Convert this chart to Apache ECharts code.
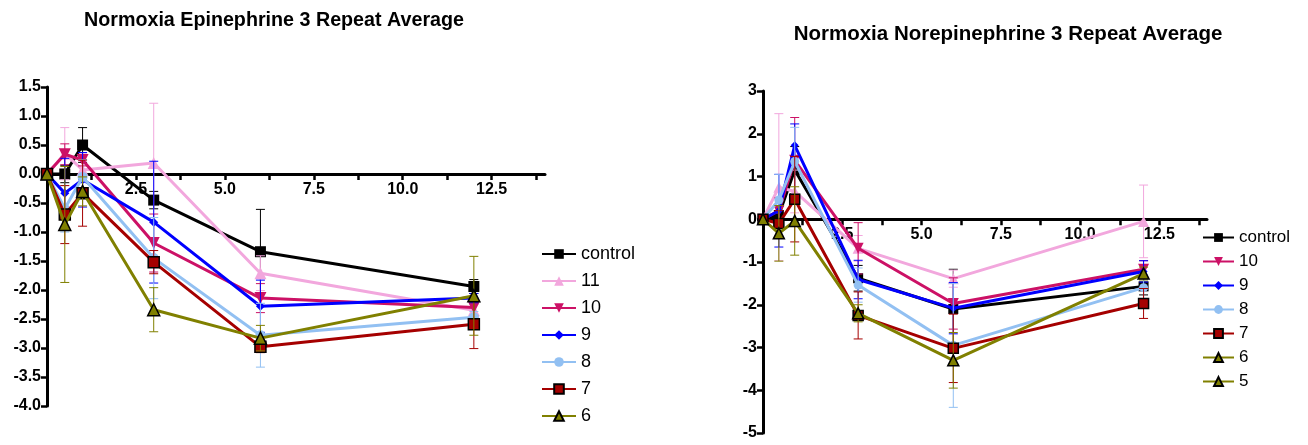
<!DOCTYPE html>
<html>
<head>
<meta charset="utf-8">
<script src="https://cdn.jsdelivr.net/npm/echarts@6/dist/echarts.min.js"></script>
<style>
html,body{margin:0;padding:0;background:#fff;}
#chart{width:1308px;height:445px;}
</style>
</head>
<body>
<div id="chart"></div>
<script>
// ---------- data ----------
const timePoints = [0, 0.5, 1, 3, 6, 12];

// Left: Normoxia Epinephrine
const epiTitle = 'Normoxia Epinephrine 3 Repeat Average';
const epiNames = ['control', '11', '10', '9', '8', '7', '6'];
const epiControl = [0, 0.00, 0.50, -0.45, -1.34, -1.94];
const epi11      = [0, 0.35, 0.07, 0.19, -1.71, -2.35];
const epi10      = [0, 0.34, 0.24, -1.19, -2.14, -2.30];
const epi9       = [0, -0.33, -0.10, -0.83, -2.28, -2.14];
const epi8       = [0, -0.60, -0.05, -1.45, -2.78, -2.47];
const epi7       = [0, -0.70, -0.33, -1.52, -2.98, -2.59];
const epi6       = [0, -0.87, -0.30, -2.34, -2.83, -2.10];
const epiErrControl = [0, 0.15, 0.30, 0.15, 0.73, 0.12];
const epiErr11      = [0, 0.45, 0.15, 1.03, 0.30, 0.10];
const epiErr10      = [0, 0.18, 0.10, 0.50, 0.25, 0.15];
const epiErr9       = [0, 0.60, 0.47, 1.05, 0.45, 0.08];
const epiErr8       = [0, 0.40, 0.30, 0.70, 0.55, 0.10];
const epiErr7       = [0, 0.50, 0.57, 0.20, 0.10, 0.42];
const epiErr6       = [0, 1.00, 0.25, 0.38, 0.22, 0.68];
const epiYTicks = { min: -4, max: 1.5, interval: 0.5 };

// Right: Normoxia Norepinephrine
const norTitle = 'Normoxia Norepinephrine 3 Repeat Average';
const norNames = ['control', '10', '9', '8', '7', '6', '5'];
const norControl = [0, 0.10, 1.15, -1.38, -2.10, -1.57];
const nor10      = [0, 0.75, 0.65, -0.68, -1.39, -0.05];
const nor9       = [0, 0.20, 1.38, -0.68, -1.97, -1.17];
const nor8       = [0, 0.20, 1.73, -1.41, -2.08, -1.22];
const nor7       = [0, 0.45, 1.35, -1.54, -2.95, -1.60];
const nor6       = [0, -0.10, 0.47, -2.25, -3.02, -1.97];
const nor5       = [0, -0.33, -0.04, -2.20, -3.30, -1.27];
const norErrControl = [0, 0.20, 0.55, 0.30, 0.93, 0.20];
const norErr10      = [0, 1.72, 0.50, 0.30, 0.20, 0.85];
const norErr9       = [0, 0.30, 1.00, 0.60, 0.60, 0.20];
const norErr8       = [0, 0.85, 0.50, 0.45, 0.60, 0.25];
const norErr7       = [0, 0.60, 0.80, 0.40, 1.45, 0.30];
const norErr6       = [0, 0.30, 1.00, 0.55, 0.80, 0.35];
const norErr5       = [0, 0.65, 0.80, 0.20, 0.65, 0.15];
const norYTicks = { min: -5, max: 3, interval: 1 };

const xRange = { min: 0, max: 14 };
const xMajorLabels = [2.5, 5, 7.5, 10, 12.5];
const xTickValues = [1.25, 2.5, 3.75, 5, 6.25, 7.5, 8.75, 10, 11.25, 12.5, 13.75];

// ---------- styles ----------
const FONT = 'Liberation Sans, Arial, Helvetica, sans-serif';
const styles = [
  { color: '#000000', symbol: 'rect', rotate: 0, border: null },
  { color: '#F2A7DD', symbol: 'triangle', rotate: 0, border: null },
  { color: '#CC1166', symbol: 'triangle', rotate: 180, border: null },
  { color: '#0000FF', symbol: 'diamond', rotate: 0, border: null },
  { color: '#92C0F2', symbol: 'circle', rotate: 0, border: null },
  { color: '#A50000', symbol: 'rect', rotate: 0, border: '#000000' },
  { color: '#808000', symbol: 'triangle', rotate: 0, border: '#000000' }
];
const symSizes = { rect: 11, triangle: 12, diamond: 9, circle: 10 };

function makeErrRender(color, capHalf) {
  return function (params, api) {
    const x = api.value(0), y = api.value(1), e = api.value(2);
    if (!e) return null;
    const top = api.coord([x, y + e]);
    const bot = api.coord([x, y - e]);
    const st = { stroke: color, lineWidth: 1 };
    return {
      type: 'group',
      children: [
        { type: 'line', shape: { x1: top[0], y1: top[1], x2: bot[0], y2: bot[1] }, style: st },
        { type: 'line', shape: { x1: top[0] - capHalf, y1: top[1], x2: top[0] + capHalf, y2: top[1] }, style: st },
        { type: 'line', shape: { x1: bot[0] - capHalf, y1: bot[1], x2: bot[0] + capHalf, y2: bot[1] }, style: st }
      ]
    };
  };
}

function buildSeries(names, values, errs, xIdx, yIdx, scale) {
  const out = [];
  names.forEach(function (name, i) {
    const s = styles[i];
    const lineData = timePoints.map(function (t, k) { return [t, values[i][k]]; });
    const errData = timePoints.map(function (t, k) { return [t, values[i][k], errs[i][k]]; });
    out.push({
      type: 'custom',
      name: name + '-err',
      xAxisIndex: xIdx, yAxisIndex: yIdx,
      renderItem: makeErrRender(s.color, 4.5),
      data: errData,
      encode: { x: 0, y: 1 },
      z: 2 + i * 2,
      silent: true
    });
    out.push({
      type: 'line',
      name: name,
      xAxisIndex: xIdx, yAxisIndex: yIdx,
      data: lineData,
      symbol: s.symbol,
      symbolRotate: s.rotate,
      symbolSize: Math.round(symSizes[s.symbol] * scale),
      showSymbol: true,
      lineStyle: { color: s.color, width: 3 },
      itemStyle: s.border ? { color: s.color, borderColor: s.border, borderWidth: 1.5 } : { color: s.color },
      emphasis: { disabled: true },
      z: 3 + i * 2,
      animation: false
    });
  });
  return out;
}

// hidden x axis for the data grid
function dataXAxis(gridIndex) {
  return { type: 'value', gridIndex: gridIndex, min: xRange.min, max: xRange.max, show: false,
    splitLine: { show: false } };
}
// visible x axis drawn at the bottom of a grid whose bottom edge is the y = 0 line
function zeroXAxis(gridIndex, fontSize, margin) {
  return {
    type: 'value', gridIndex: gridIndex, min: xRange.min, max: xRange.max, interval: 1.25,
    position: 'bottom',
    splitLine: { show: false },
    axisLine: { show: true, onZero: false, lineStyle: { color: '#000', width: 3 } },
    axisTick: { show: true, length: 6, customValues: xTickValues, lineStyle: { color: '#000', width: 2.5 } },
    axisLabel: {
      show: true, customValues: xMajorLabels, margin: margin,
      fontFamily: FONT, fontWeight: 'bold', fontSize: fontSize, color: '#000',
      formatter: function (v) { return Number(v).toFixed(1); }
    }
  };
}

function yAxisDef(gridIndex, ticks, digits) {
  return {
    type: 'value', gridIndex: gridIndex, min: ticks.min, max: ticks.max, interval: ticks.interval,
    splitLine: { show: false },
    axisLine: { show: true, onZero: false, lineStyle: { color: '#000', width: 3 } },
    axisTick: { show: true, length: 6, lineStyle: { color: '#000', width: 2.5 } },
    axisLabel: {
      show: true, margin: 6, fontFamily: FONT, fontWeight: 'bold', fontSize: 16, color: '#000',
      formatter: function (v) { return Number(v).toFixed(digits); }
    }
  };
}
function hiddenYAxis(gridIndex) {
  return { type: 'value', gridIndex: gridIndex, min: 0, max: 1, show: false, splitLine: { show: false } };
}

const chart = echarts.init(document.getElementById('chart'), null, { renderer: 'canvas' });

const epiValues = [epiControl, epi11, epi10, epi9, epi8, epi7, epi6];
const epiErrs = [epiErrControl, epiErr11, epiErr10, epiErr9, epiErr8, epiErr7, epiErr6];
const norValues = [norControl, nor10, nor9, nor8, nor7, nor6, nor5];
const norErrs = [norErrControl, norErr10, norErr9, norErr8, norErr7, norErr6, norErr5];

// grid geometry
const gL = { left: 47, top: 87, width: 498, height: 319 };
const gR = { left: 763, top: 91, width: 444, height: 342 };
const zeroFrac = function (t) { return t.max / (t.max - t.min); };

const option = {
  backgroundColor: '#fff',
  animation: false,
  title: [
    { text: epiTitle, left: 269, top: 6, textAlign: 'center',
      textStyle: { fontFamily: FONT, fontWeight: 'bold', fontSize: 19.7, color: '#000' } },
    { text: norTitle, left: 1003, top: 19, textAlign: 'center',
      textStyle: { fontFamily: FONT, fontWeight: 'bold', fontSize: 20.5, color: '#000' } }
  ],
  grid: [
    { left: gL.left, top: gL.top, width: gL.width, height: gL.height, containLabel: false },
    { left: gR.left, top: gR.top, width: gR.width, height: gR.height, containLabel: false },
    { left: gL.left, top: gL.top, width: gL.width, height: gL.height * zeroFrac(epiYTicks), containLabel: false },
    { left: gR.left, top: gR.top, width: gR.width, height: gR.height * zeroFrac(norYTicks), containLabel: false }
  ],
  xAxis: [dataXAxis(0), dataXAxis(1), zeroXAxis(2, 16, 8), zeroXAxis(3, 16, 7)],
  yAxis: [yAxisDef(0, epiYTicks, 1), yAxisDef(1, norYTicks, 0), hiddenYAxis(2), hiddenYAxis(3)],
  legend: [
    { data: epiNames, orient: 'vertical', left: 536, top: 240, itemWidth: 34, itemHeight: 12, itemGap: 9,
      textStyle: { fontFamily: FONT, fontSize: 18, color: '#000' }, selectedMode: false },
    { data: norNames, orient: 'vertical', left: 1197, top: 224, itemWidth: 31, itemHeight: 11, itemGap: 7,
      textStyle: { fontFamily: FONT, fontSize: 17, color: '#000' }, selectedMode: false }
  ],
  series: []
};

option.series = buildSeries(epiNames, epiValues, epiErrs, 0, 0, 1.0)
  .concat(buildSeries(norNames, norValues, norErrs, 1, 1, 0.9));

chart.setOption(option);
</script>
</body>
</html>
